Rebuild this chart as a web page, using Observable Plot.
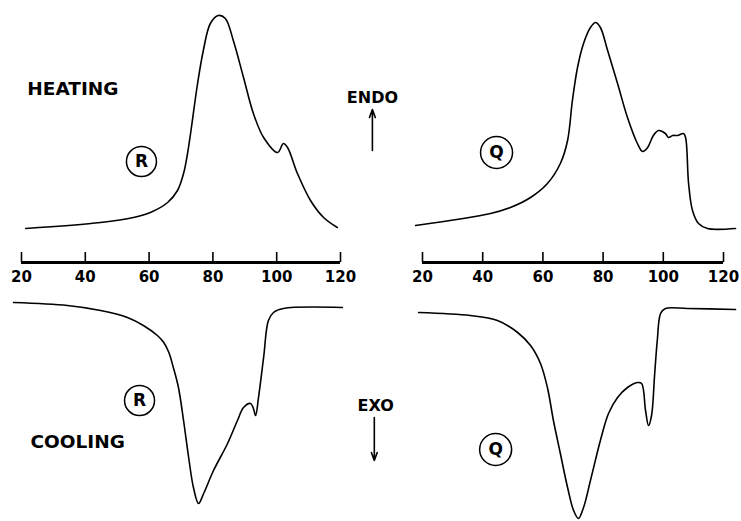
<!DOCTYPE html>
<html><head><meta charset="utf-8">
<script src="https://cdn.jsdelivr.net/npm/d3@7"></script>
<script src="https://cdn.jsdelivr.net/npm/@observablehq/plot@0.6"></script>
<style>
body{margin:0;background:#fff;}
#wrap{position:relative;width:741px;height:521px;background:#fff;overflow:hidden;}
#wrap svg{position:absolute;top:0;}
</style></head><body><div id="wrap"></div>
<script>
// Temperature axis ticks (°C)
const ticks = [20, 40, 60, 80, 100, 120];

// Sample R — heating trace (temperature °C, heat flow arb. units, endo up)
const heatR_T = [21.3, 44.8, 55.1, 60.4, 65.8, 68.9, 70.8, 72.0, 73.0, 75.2, 77.0, 79.2, 81.7, 83.9, 86.4, 89.6, 92.7, 95.9, 100.3, 102.1, 103.4, 106.5, 110.6, 114.7, 119.0];
const heatR_v = [3.4, 4.0, 4.5, 5.0, 6.0, 7.2, 8.9, 10.8, 12.9, 17.9, 21.2, 23.9, 24.7, 24.4, 22.2, 18.5, 14.9, 12.5, 11.0, 11.9, 11.5, 8.9, 6.2, 4.5, 3.5];

// Sample R — cooling trace (exo down)
const coolR_T = [17.5, 34.4, 44.8, 53.2, 58.2, 62.6, 64.6, 66.2, 67.6, 69.2, 70.8, 72.4, 73.9, 75.5, 77.1, 80.2, 84.6, 87.7, 89.6, 91.8, 92.7, 93.4, 94.3, 95.9, 97.4, 99.0, 102.1, 120.6];
const coolR_v = [-4.0, -4.3, -4.8, -5.5, -6.3, -7.3, -8.0, -9.0, -10.5, -12.5, -15.8, -19.5, -22.5, -24.1, -23.1, -20.8, -18.1, -15.8, -14.5, -14.1, -14.6, -15.3, -13.5, -9.5, -5.8, -5.0, -4.6, -4.5];

// Sample Q — heating trace
const heatQ_T = [17.7, 42.6, 49.2, 55.9, 61.5, 65.8, 68.2, 69.8, 71.5, 73.5, 75.8, 77.5, 79.1, 81.5, 84.8, 88.1, 91.4, 93.1, 94.8, 96.7, 98.4, 100.7, 101.7, 103.1, 104.7, 106.7, 107.4, 108.4, 109.7, 111.7, 114.7, 124.0];
const heatQ_v = [3.7, 4.9, 5.5, 6.5, 7.9, 9.9, 12.2, 16.2, 19.5, 21.9, 23.5, 24.0, 23.5, 21.2, 17.9, 14.5, 11.9, 11.1, 11.5, 12.7, 13.2, 12.9, 12.5, 12.7, 12.7, 12.9, 12.5, 7.9, 5.2, 3.9, 3.4, 3.4];

// Sample Q — cooling trace
const coolQ_T = [18.7, 35.9, 44.9, 51.6, 55.9, 59.2, 61.5, 63.5, 65.8, 68.2, 70.2, 71.8, 73.5, 75.8, 79.1, 81.8, 84.8, 88.1, 91.4, 92.8, 94.1, 95.1, 96.1, 97.1, 98.0, 99.1, 100.7, 108.0, 124.0];
const coolQ_v = [-5.0, -5.3, -5.8, -7.0, -8.3, -10.1, -12.5, -15.8, -19.1, -22.5, -24.8, -25.6, -24.5, -21.8, -17.8, -15.1, -13.5, -12.5, -12.0, -12.1, -14.8, -16.3, -15.3, -11.3, -7.8, -5.1, -4.6, -4.6, -4.7];

// Annotations
const sampleLabels = ["R", "Q"];
const modeLabels = ["HEATING", "COOLING"];
const directionLabels = ["ENDO", "EXO"];

const FONT = "DejaVu Sans, sans-serif";
const toRows = (T, v) => T.map((t, i) => ({T: t, v: v[i]}));

function panel({heat, cool, width, ml, mr, sample, circles, extra}) {
  return Plot.plot({
    width, height: 521,
    marginTop: 0, marginBottom: 0, marginLeft: ml, marginRight: mr,
    x: {domain: [20, 120], axis: null},
    y: {domain: [-25.9, 26.2], axis: null},
    style: {background: "transparent", overflow: "visible", fontFamily: FONT},
    marks: [
      Plot.ruleY([0], {x1: d3.min(ticks), x2: d3.max(ticks), strokeWidth: 3, stroke: "#000"}),
      Plot.ruleX(ticks, {x: d => d, y1: 0, y2: 1.0, strokeWidth: 1.6, stroke: "#000"}),
      Plot.text(ticks, {x: d => d, y: 0, dy: 15, text: d => String(d), fontSize: 15, fontWeight: "bold", fill: "#000"}),
      Plot.line(heat, {x: "T", y: "v", curve: "catmull-rom", strokeWidth: 1.6, stroke: "#000"}),
      Plot.line(cool, {x: "T", y: "v", curve: "catmull-rom", strokeWidth: 1.6, stroke: "#000"}),
      Plot.dot(circles, {x: "x", y: "y", r: sample === "Q" ? 16 : 15, stroke: "#000", strokeWidth: 1.5, fill: "none"}),
      Plot.text(circles, {x: "x", y: "y", text: () => sample, fontSize: 17, fontWeight: "bold", fill: "#000"}),
      ...extra
    ]
  });
}

const left = panel({
  heat: toRows(heatR_T, heatR_v), cool: toRows(coolR_T, coolR_v),
  width: 400, ml: 21, mr: 60, sample: sampleLabels[0],
  circles: [{x: 57.6, y: 10.1}, {x: 57.0, y: -13.8}],
  extra: [
    Plot.text([{x: 36.1, y: 17.35, t: modeLabels[0]}, {x: 37.6, y: -17.95, t: modeLabels[1]}],
      {x: "x", y: "y", text: "t", fontSize: 18.5, fontWeight: "bold", fill: "#000", style: "letter-spacing:0.6px"}),
    Plot.text([{x: 130.0, y: 16.5, t: directionLabels[0]}, {x: 131.0, y: -14.3, t: directionLabels[1]}],
      {x: "x", y: "y", text: "t", fontSize: 16, fontWeight: "bold", fill: "#000"}),
    Plot.arrow([{x: 130.0, y1: 11.2, y2: 15.3}, {x: 130.6, y1: -15.5, y2: -19.8}],
      {x1: "x", x2: "x", y1: "y1", y2: "y2", strokeWidth: 1.6, stroke: "#000", headLength: 8, headAngle: 40})
  ]
});

const right = panel({
  heat: toRows(heatQ_T, heatQ_v), cool: toRows(coolQ_T, coolQ_v),
  width: 361, ml: 42, mr: 18, sample: sampleLabels[1],
  circles: [{x: 44.6, y: 11.0}, {x: 44.3, y: -18.7}],
  extra: []
});

left.style.left = "0px";
right.style.left = "380px";
const wrap = document.getElementById("wrap");
wrap.appendChild(left);
wrap.appendChild(right);
</script></body></html>
